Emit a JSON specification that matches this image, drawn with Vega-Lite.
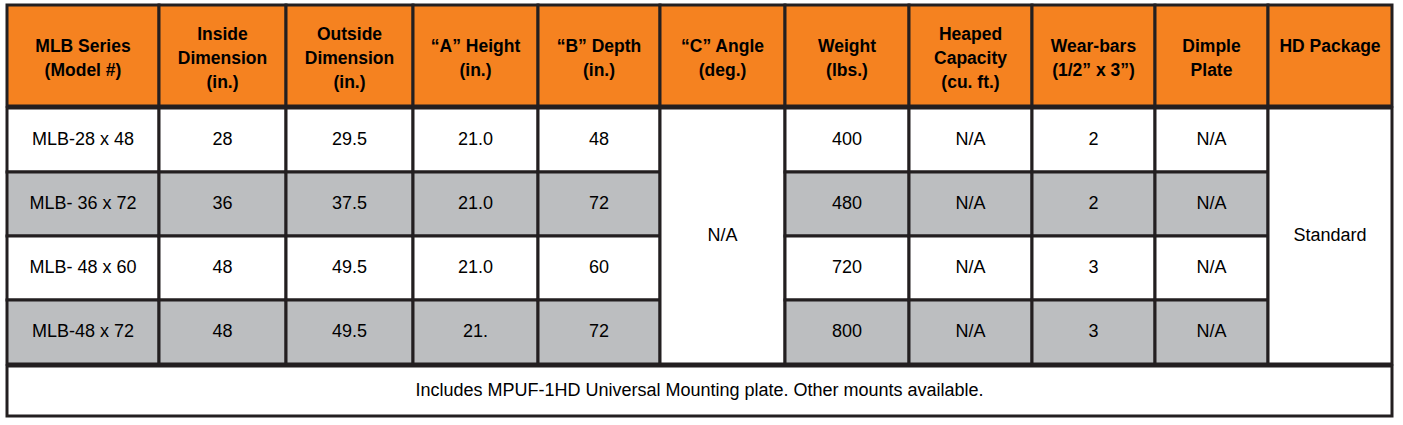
{
  "$schema": "https://vega.github.io/schema/vega-lite/v6.json",
  "padding": {"left": 5, "top": 3, "right": 0, "bottom": 0},
  "spacing": -6,
  "datasets": {
    "header": [
      {"col": "c1", "label": "MLB Series\n(Model #)"},
      {"col": "c2", "label": "Inside\nDimension\n(in.)"},
      {"col": "c3", "label": "Outside\nDimension\n(in.)"},
      {"col": "c4", "label": "“A” Height\n(in.)"},
      {"col": "c5", "label": "“B” Depth\n(in.)"},
      {"col": "c6", "label": "“C” Angle\n(deg.)"},
      {"col": "c7", "label": "Weight\n(lbs.)"},
      {"col": "c8", "label": "Heaped\nCapacity\n(cu. ft.)"},
      {"col": "c9", "label": "Wear-bars\n(1/2” x 3”)"},
      {"col": "c10", "label": "Dimple\nPlate"},
      {"col": "c11", "label": "HD Package"}
    ],
    "body": [
      {"col": "c1", "row": 1, "value": "MLB-28 x 48"},
      {"col": "c1", "row": 2, "value": "MLB- 36 x 72"},
      {"col": "c1", "row": 3, "value": "MLB- 48 x 60"},
      {"col": "c1", "row": 4, "value": "MLB-48 x 72"},
      {"col": "c2", "row": 1, "value": "28"},
      {"col": "c2", "row": 2, "value": "36"},
      {"col": "c2", "row": 3, "value": "48"},
      {"col": "c2", "row": 4, "value": "48"},
      {"col": "c3", "row": 1, "value": "29.5"},
      {"col": "c3", "row": 2, "value": "37.5"},
      {"col": "c3", "row": 3, "value": "49.5"},
      {"col": "c3", "row": 4, "value": "49.5"},
      {"col": "c4", "row": 1, "value": "21.0"},
      {"col": "c4", "row": 2, "value": "21.0"},
      {"col": "c4", "row": 3, "value": "21.0"},
      {"col": "c4", "row": 4, "value": "21."},
      {"col": "c5", "row": 1, "value": "48"},
      {"col": "c5", "row": 2, "value": "72"},
      {"col": "c5", "row": 3, "value": "60"},
      {"col": "c5", "row": 4, "value": "72"},
      {"col": "c6", "value": "N/A"},
      {"col": "c7", "row": 1, "value": "400"},
      {"col": "c7", "row": 2, "value": "480"},
      {"col": "c7", "row": 3, "value": "720"},
      {"col": "c7", "row": 4, "value": "800"},
      {"col": "c8", "row": 1, "value": "N/A"},
      {"col": "c8", "row": 2, "value": "N/A"},
      {"col": "c8", "row": 3, "value": "N/A"},
      {"col": "c8", "row": 4, "value": "N/A"},
      {"col": "c9", "row": 1, "value": "2"},
      {"col": "c9", "row": 2, "value": "2"},
      {"col": "c9", "row": 3, "value": "3"},
      {"col": "c9", "row": 4, "value": "3"},
      {"col": "c10", "row": 1, "value": "N/A"},
      {"col": "c10", "row": 2, "value": "N/A"},
      {"col": "c10", "row": 3, "value": "N/A"},
      {"col": "c10", "row": 4, "value": "N/A"},
      {"col": "c11", "value": "Standard"}
    ],
    "footer": [
      {"note": "Includes MPUF-1HD Universal Mounting plate. Other mounts available."}
    ]
  },
  "vconcat": [
    {
      "spacing": 0,
      "bounds": "flush",
      "hconcat": [
        {"width": 152, "height": 101, "data": {"name": "header"}, "transform": [{"filter": "datum.col == 'c1'"}],
         "layer": [{"mark": {"type": "rect", "style": "box", "fill": "#F58220"}, "encoding": {}}, {"mark": {"type": "text", "style": "hdr", "dy": -8.5}, "encoding": {"text": {"field": "label"}}}]},
        {"width": 127, "height": 101, "data": {"name": "header"}, "transform": [{"filter": "datum.col == 'c2'"}],
         "layer": [{"mark": {"type": "rect", "style": "box", "fill": "#F58220"}, "encoding": {}}, {"mark": {"type": "text", "style": "hdr", "dy": -20.5}, "encoding": {"text": {"field": "label"}}}]},
        {"width": 127, "height": 101, "data": {"name": "header"}, "transform": [{"filter": "datum.col == 'c3'"}],
         "layer": [{"mark": {"type": "rect", "style": "box", "fill": "#F58220"}, "encoding": {}}, {"mark": {"type": "text", "style": "hdr", "dy": -20.5}, "encoding": {"text": {"field": "label"}}}]},
        {"width": 125, "height": 101, "data": {"name": "header"}, "transform": [{"filter": "datum.col == 'c4'"}],
         "layer": [{"mark": {"type": "rect", "style": "box", "fill": "#F58220"}, "encoding": {}}, {"mark": {"type": "text", "style": "hdr", "dy": -8.5}, "encoding": {"text": {"field": "label"}}}]},
        {"width": 122, "height": 101, "data": {"name": "header"}, "transform": [{"filter": "datum.col == 'c5'"}],
         "layer": [{"mark": {"type": "rect", "style": "box", "fill": "#F58220"}, "encoding": {}}, {"mark": {"type": "text", "style": "hdr", "dy": -8.5}, "encoding": {"text": {"field": "label"}}}]},
        {"width": 125, "height": 101, "data": {"name": "header"}, "transform": [{"filter": "datum.col == 'c6'"}],
         "layer": [{"mark": {"type": "rect", "style": "box", "fill": "#F58220"}, "encoding": {}}, {"mark": {"type": "text", "style": "hdr", "dy": -8.5}, "encoding": {"text": {"field": "label"}}}]},
        {"width": 124, "height": 101, "data": {"name": "header"}, "transform": [{"filter": "datum.col == 'c7'"}],
         "layer": [{"mark": {"type": "rect", "style": "box", "fill": "#F58220"}, "encoding": {}}, {"mark": {"type": "text", "style": "hdr", "dy": -8.5}, "encoding": {"text": {"field": "label"}}}]},
        {"width": 123, "height": 101, "data": {"name": "header"}, "transform": [{"filter": "datum.col == 'c8'"}],
         "layer": [{"mark": {"type": "rect", "style": "box", "fill": "#F58220"}, "encoding": {}}, {"mark": {"type": "text", "style": "hdr", "dy": -20.5}, "encoding": {"text": {"field": "label"}}}]},
        {"width": 123, "height": 101, "data": {"name": "header"}, "transform": [{"filter": "datum.col == 'c9'"}],
         "layer": [{"mark": {"type": "rect", "style": "box", "fill": "#F58220"}, "encoding": {}}, {"mark": {"type": "text", "style": "hdr", "dy": -8.5}, "encoding": {"text": {"field": "label"}}}]},
        {"width": 113, "height": 101, "data": {"name": "header"}, "transform": [{"filter": "datum.col == 'c10'"}],
         "layer": [{"mark": {"type": "rect", "style": "box", "fill": "#F58220"}, "encoding": {}}, {"mark": {"type": "text", "style": "hdr", "dy": -8.5}, "encoding": {"text": {"field": "label"}}}]},
        {"width": 124, "height": 101, "data": {"name": "header"}, "transform": [{"filter": "datum.col == 'c11'"}],
         "layer": [{"mark": {"type": "rect", "style": "box", "fill": "#F58220"}, "encoding": {}}, {"mark": {"type": "text", "style": "hdr", "dy": -8.5}, "encoding": {"text": {"field": "label"}}}]}
      ]
    },
    {
      "spacing": 0,
      "bounds": "flush",
      "hconcat": [
        {"width": 152, "height": 256, "data": {"name": "body"}, "transform": [{"filter": "datum.col == 'c1'"}],
         "encoding": {"y": {"field": "row", "type": "ordinal", "axis": null, "scale": {"padding": 0}}},
         "layer": [{"mark": {"type": "rect", "style": "box"}, "encoding": {"fill": {"condition": {"test": "datum.row % 2 == 0", "value": "#BCBEC0"}, "value": "#FFFFFF"}}}, {"mark": {"type": "text", "style": "cell"}, "encoding": {"text": {"field": "value"}}}]},
        {"width": 127, "height": 256, "data": {"name": "body"}, "transform": [{"filter": "datum.col == 'c2'"}],
         "encoding": {"y": {"field": "row", "type": "ordinal", "axis": null, "scale": {"padding": 0}}},
         "layer": [{"mark": {"type": "rect", "style": "box"}, "encoding": {"fill": {"condition": {"test": "datum.row % 2 == 0", "value": "#BCBEC0"}, "value": "#FFFFFF"}}}, {"mark": {"type": "text", "style": "cell"}, "encoding": {"text": {"field": "value"}}}]},
        {"width": 127, "height": 256, "data": {"name": "body"}, "transform": [{"filter": "datum.col == 'c3'"}],
         "encoding": {"y": {"field": "row", "type": "ordinal", "axis": null, "scale": {"padding": 0}}},
         "layer": [{"mark": {"type": "rect", "style": "box"}, "encoding": {"fill": {"condition": {"test": "datum.row % 2 == 0", "value": "#BCBEC0"}, "value": "#FFFFFF"}}}, {"mark": {"type": "text", "style": "cell"}, "encoding": {"text": {"field": "value"}}}]},
        {"width": 125, "height": 256, "data": {"name": "body"}, "transform": [{"filter": "datum.col == 'c4'"}],
         "encoding": {"y": {"field": "row", "type": "ordinal", "axis": null, "scale": {"padding": 0}}},
         "layer": [{"mark": {"type": "rect", "style": "box"}, "encoding": {"fill": {"condition": {"test": "datum.row % 2 == 0", "value": "#BCBEC0"}, "value": "#FFFFFF"}}}, {"mark": {"type": "text", "style": "cell"}, "encoding": {"text": {"field": "value"}}}]},
        {"width": 122, "height": 256, "data": {"name": "body"}, "transform": [{"filter": "datum.col == 'c5'"}],
         "encoding": {"y": {"field": "row", "type": "ordinal", "axis": null, "scale": {"padding": 0}}},
         "layer": [{"mark": {"type": "rect", "style": "box"}, "encoding": {"fill": {"condition": {"test": "datum.row % 2 == 0", "value": "#BCBEC0"}, "value": "#FFFFFF"}}}, {"mark": {"type": "text", "style": "cell"}, "encoding": {"text": {"field": "value"}}}]},
        {"width": 125, "height": 256, "data": {"name": "body"}, "transform": [{"filter": "datum.col == 'c6'"}],
         "layer": [{"mark": {"type": "rect", "style": "box", "fill": "#FFFFFF"}, "encoding": {}}, {"mark": {"type": "text", "style": "cell"}, "encoding": {"text": {"field": "value"}}}]},
        {"width": 124, "height": 256, "data": {"name": "body"}, "transform": [{"filter": "datum.col == 'c7'"}],
         "encoding": {"y": {"field": "row", "type": "ordinal", "axis": null, "scale": {"padding": 0}}},
         "layer": [{"mark": {"type": "rect", "style": "box"}, "encoding": {"fill": {"condition": {"test": "datum.row % 2 == 0", "value": "#BCBEC0"}, "value": "#FFFFFF"}}}, {"mark": {"type": "text", "style": "cell"}, "encoding": {"text": {"field": "value"}}}]},
        {"width": 123, "height": 256, "data": {"name": "body"}, "transform": [{"filter": "datum.col == 'c8'"}],
         "encoding": {"y": {"field": "row", "type": "ordinal", "axis": null, "scale": {"padding": 0}}},
         "layer": [{"mark": {"type": "rect", "style": "box"}, "encoding": {"fill": {"condition": {"test": "datum.row % 2 == 0", "value": "#BCBEC0"}, "value": "#FFFFFF"}}}, {"mark": {"type": "text", "style": "cell"}, "encoding": {"text": {"field": "value"}}}]},
        {"width": 123, "height": 256, "data": {"name": "body"}, "transform": [{"filter": "datum.col == 'c9'"}],
         "encoding": {"y": {"field": "row", "type": "ordinal", "axis": null, "scale": {"padding": 0}}},
         "layer": [{"mark": {"type": "rect", "style": "box"}, "encoding": {"fill": {"condition": {"test": "datum.row % 2 == 0", "value": "#BCBEC0"}, "value": "#FFFFFF"}}}, {"mark": {"type": "text", "style": "cell"}, "encoding": {"text": {"field": "value"}}}]},
        {"width": 113, "height": 256, "data": {"name": "body"}, "transform": [{"filter": "datum.col == 'c10'"}],
         "encoding": {"y": {"field": "row", "type": "ordinal", "axis": null, "scale": {"padding": 0}}},
         "layer": [{"mark": {"type": "rect", "style": "box"}, "encoding": {"fill": {"condition": {"test": "datum.row % 2 == 0", "value": "#BCBEC0"}, "value": "#FFFFFF"}}}, {"mark": {"type": "text", "style": "cell"}, "encoding": {"text": {"field": "value"}}}]},
        {"width": 124, "height": 256, "data": {"name": "body"}, "transform": [{"filter": "datum.col == 'c11'"}],
         "layer": [{"mark": {"type": "rect", "style": "box", "fill": "#FFFFFF"}, "encoding": {}}, {"mark": {"type": "text", "style": "cell"}, "encoding": {"text": {"field": "value"}}}]}
      ]
    },
    {
      "width": 1385, "height": 50, "data": {"name": "footer"},
      "layer": [
        {"mark": {"type": "rect", "style": "box", "fill": "#FFFFFF"}, "encoding": {}},
        {"mark": {"type": "text", "style": "cell"}, "encoding": {"text": {"field": "note"}}}
      ]
    }
  ],
  "config": {
    "view": {"stroke": null},
    "style": {
      "box": {"stroke": "#231F20", "strokeWidth": 3},
      "hdr": {"font": "Liberation Sans", "fontSize": 17.5, "fontWeight": "bold", "lineHeight": 24, "lineBreak": "\n", "fill": "#231F20", "align": "center", "baseline": "middle"},
      "cell": {"font": "Liberation Sans", "fontSize": 18, "fill": "#231F20", "align": "center", "baseline": "middle"}
    }
  }
}
